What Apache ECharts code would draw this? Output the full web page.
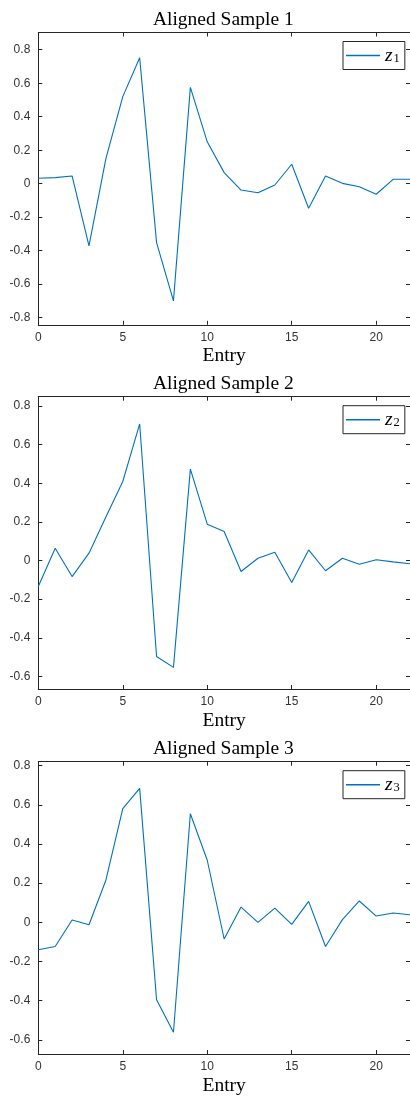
<!DOCTYPE html>
<html>
<head>
<meta charset="utf-8">
<script src="https://cdn.jsdelivr.net/npm/echarts@6/dist/echarts.min.js"></script>
<style>
  html, body { margin: 0; padding: 0; background: #ffffff; }
  #chart { width: 410px; height: 1098px; }
</style>
</head>
<body>
<div id="chart"></div>
<script>
// Entry index shared by all three samples
const entry = [0, 1, 2, 3, 4, 5, 6, 7, 8, 9, 10, 11, 12, 13, 14, 15, 16, 17, 18, 19, 20, 21, 22];

// Aligned sample values
const sample1 = [0.032, 0.036, 0.046, -0.372, 0.15, 0.52, 0.752, -0.352, -0.70, 0.575, 0.25, 0.066,
                 -0.038, -0.054, -0.008, 0.116, -0.147, 0.046, 0.002, -0.018, -0.063, 0.026, 0.026];
const sample2 = [-0.134, 0.064, -0.083, 0.038, 0.225, 0.409, 0.707, -0.497, -0.553, 0.473, 0.188, 0.15,
                 -0.057, 0.012, 0.043, -0.114, 0.055, -0.053, 0.012, -0.019, 0.004, -0.007, -0.017];
const sample3 = [-0.14, -0.123, 0.012, -0.012, 0.215, 0.58, 0.684, -0.395, -0.561, 0.554, 0.317, -0.085,
                 0.078, 0.0, 0.073, -0.01, 0.107, -0.123, 0.014, 0.109, 0.032, 0.048, 0.039];

const titles = ['Aligned Sample 1', 'Aligned Sample 2', 'Aligned Sample 3'];
const seriesNames = ['z1', 'z2', 'z3'];
const subscripts = ['1', '2', '3'];

// Axis ticks
const xTicks = [0, 5, 10, 15, 20];
const xRange = [0, 22];
const yTicks1 = [-0.8, -0.6, -0.4, -0.2, 0, 0.2, 0.4, 0.6, 0.8];
const yTicks2 = [-0.6, -0.4, -0.2, 0, 0.2, 0.4, 0.6, 0.8];
const yTicks3 = [-0.6, -0.4, -0.2, 0, 0.2, 0.4, 0.6, 0.8];
const yRange1 = [-0.843, 0.903];
const yRange2 = [-0.665, 0.848];
const yRange3 = [-0.672, 0.82];

const samples = [sample1, sample2, sample3];
const yTicks = [yTicks1, yTicks2, yTicks3];
const yRanges = [yRange1, yRange2, yRange3];

const LINE = '#0072BD';
const AX = '#262626';
const SERIF = '"Liberation Serif", "Times New Roman", serif';
const SANS = '"Liberation Sans", Arial, Helvetica, sans-serif';

const gridTops = [32.5, 396.7, 761.7];
const gridLeft = 38.3;
const gridWidth = 373;
const gridHeight = 292.3;

const option = {
  animation: false,
  backgroundColor: '#ffffff',
  title: [],
  legend: [],
  grid: [],
  xAxis: [],
  yAxis: [],
  series: []
};

function boxAxis(base, extra) {
  return Object.assign({}, base, extra);
}

for (let p = 0; p < 3; p++) {
  const top = gridTops[p];
  option.grid.push({ left: gridLeft, top: top, width: gridWidth, height: gridHeight, containLabel: false });

  option.title.push({
    text: titles[p],
    left: gridLeft + gridWidth / 2 - 1.5,
    top: top - 23,
    textAlign: 'center',
    padding: 0,
    textStyle: { fontFamily: SERIF, fontWeight: 'normal', fontSize: 19.5, color: '#000' }
  });

  // Box frame: bottom/left axes carry labels, top/right only mirror the ticks
  const axLine = { show: true, onZero: false, lineStyle: { color: AX, width: 1 } };
  const xBase = {
    type: 'value', gridIndex: p, min: xRange[0], max: xRange[1],
    splitLine: { show: false },
    axisLine: axLine,
    axisTick: { show: true, inside: true, length: 4, customValues: xTicks, lineStyle: { color: AX } }
  };
  option.xAxis.push(boxAxis(xBase, {
    position: 'bottom',
    axisLabel: { customValues: xTicks, color: '#333', fontFamily: SANS, fontSize: 12, margin: 7 },
    name: 'Entry', nameLocation: 'middle', nameGap: 21.5,
    nameTextStyle: { fontFamily: SERIF, fontSize: 19.5, color: '#000' }
  }));
  option.xAxis.push(boxAxis(xBase, { position: 'top', axisLabel: { show: false } }));

  const yBase = {
    type: 'value', gridIndex: p, min: yRanges[p][0], max: yRanges[p][1],
    splitLine: { show: false },
    axisLine: axLine,
    axisTick: { show: true, inside: true, length: 4, customValues: yTicks[p], lineStyle: { color: AX } }
  };
  option.yAxis.push(boxAxis(yBase, {
    position: 'left',
    axisLabel: {
      customValues: yTicks[p], color: '#333', fontFamily: SANS, fontSize: 12, margin: 8,
      formatter: v => (Math.abs(v) < 1e-9 ? '0' : v.toFixed(1))
    }
  }));
  option.yAxis.push(boxAxis(yBase, { position: 'right', axisLabel: { show: false } }));

  option.series.push({
    name: seriesNames[p],
    type: 'line',
    xAxisIndex: p * 2,
    yAxisIndex: p * 2,
    data: entry.map((x, i) => [x, samples[p][i]]),
    symbol: 'none',
    lineStyle: { color: LINE, width: 1.1 },
    itemStyle: { color: LINE },
    clip: true
  });

  option.legend.push({
    data: [{ name: seriesNames[p], icon: 'rect', itemStyle: { color: LINE } }],
    left: 343,
    top: top + 9,
    orient: 'vertical',
    padding: [4, 5, 4, 3],
    itemWidth: 34,
    itemHeight: 1.5,
    borderColor: AX,
    borderWidth: 1,
    borderRadius: 0,
    backgroundColor: '#ffffff',
    selectedMode: false,
    formatter: () => '{z|z}{s|' + subscripts[p] + '}',
    textStyle: {
      rich: {
        z: { fontFamily: SERIF, fontStyle: 'italic', fontSize: 19.5, color: '#000', lineHeight: 17 },
        s: { fontFamily: SERIF, fontSize: 12.5, color: '#000', padding: [7, 0, 0, 1], lineHeight: 17 }
      }
    }
  });
}

const chart = echarts.init(document.getElementById('chart'), null, { renderer: 'canvas' });
chart.setOption(option);
</script>
</body>
</html>
